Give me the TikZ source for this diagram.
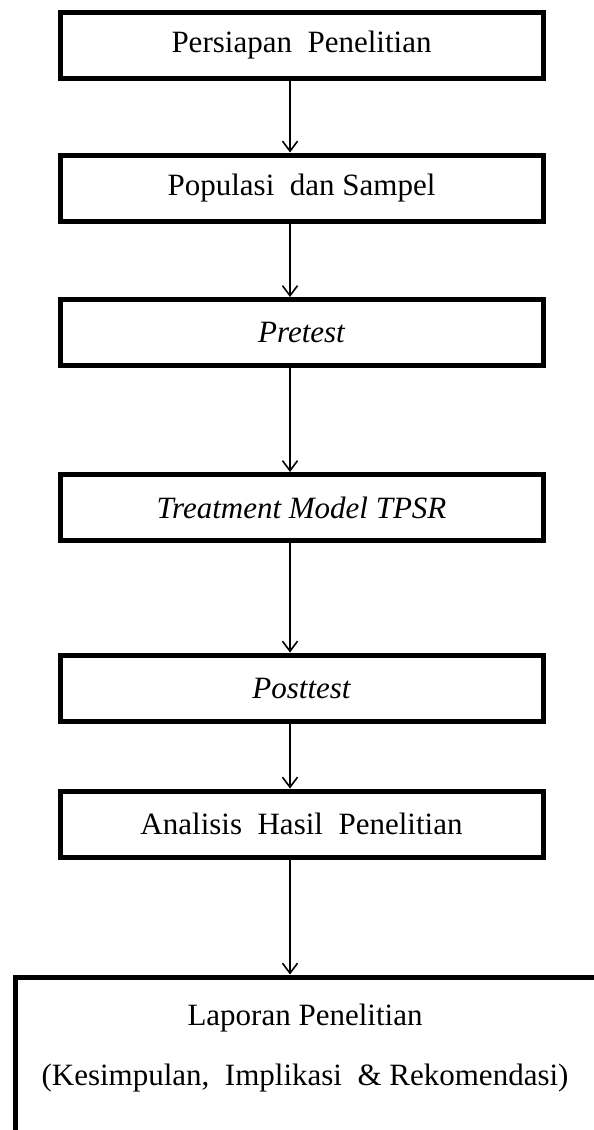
\documentclass[tikz,border=0pt]{standalone}
\usepackage{fontspec}
\setmainfont{Liberation Serif}
\usetikzlibrary{arrows.meta}
\begin{document}
\begin{tikzpicture}[x=1pt,y=-1pt,
  txt/.style={font=\fontsize{31}{37}\selectfont, inner sep=0pt},
  stepbox/.style={draw, line width=5pt, minimum width=483pt, minimum height=66pt,
    inner sep=0pt, outer sep=0pt, font=\fontsize{31}{37}\selectfont},
  flow/.style={line width=1.6pt, -{Straight Barb[length=10pt,width=15pt,line width=1.6pt]}, shorten >=2.5pt}]
\useasboundingbox (0,0) rectangle (594,1130);
\fill[white] (0,0) rectangle (594,1130);
\clip (0,0) rectangle (594,1130);
\coordinate (ax) at (290,0);
\node[stepbox] (b1) at (301.5,45.5) {Persiapan\ \ Penelitian};
\node[stepbox] (b2) at (301.5,188) {Populasi\ \ dan Sampel};
\node[stepbox] (b3) at (301.5,332.5) {\itshape Pretest};
\node[stepbox] (b4) at (301.5,507.5) {\itshape Treatment Model TPSR};
\node[stepbox] (b5) at (301.5,688) {\itshape Posttest};
\node[stepbox] (b6) at (301.5,824) {Analisis\ \ Hasil\ \ Penelitian};
\node[draw, line width=5pt, anchor=north west, minimum width=640pt, minimum height=220pt,
  inner sep=0pt, outer sep=0pt] (b7) at (15,977) {};
\node[txt, anchor=base] (t1) at (305,1025) {Laporan Penelitian};
\node[txt, anchor=base] (t2) at (305,1085) {(Kesimpulan,\ \ Implikasi\ \ \&\ Rekomendasi)};
\draw[flow] (b1.south -| ax) -- (b2.north -| ax);
\draw[flow] (b2.south -| ax) -- (b3.north -| ax);
\draw[flow] (b3.south -| ax) -- (b4.north -| ax);
\draw[flow] (b4.south -| ax) -- (b5.north -| ax);
\draw[flow] (b5.south -| ax) -- (b6.north -| ax);
\draw[flow] (b6.south -| ax) -- (b7.north -| ax);
\end{tikzpicture}
\end{document}
